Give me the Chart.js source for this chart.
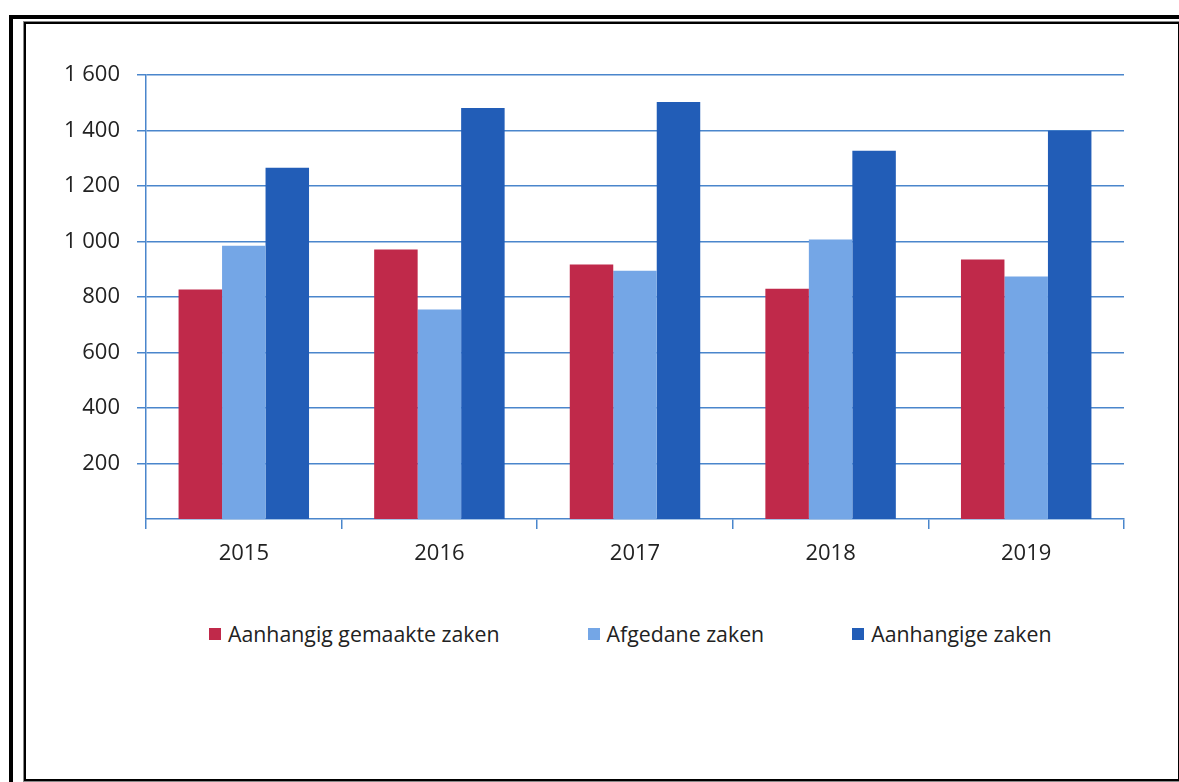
<!DOCTYPE html>
<html lang="nl">
<head>
<meta charset="UTF-8">
<title>Zaken 2015-2019</title>
<script src="https://cdn.jsdelivr.net/npm/chart.js"></script>
<style>
    body {
        margin: 0;
        background: #fff;
        font-family: "Open Sans", sans-serif;
        width: 1179px;
        height: 782px;
        overflow: hidden;
        position: relative;
    }
    .frame-outer {
        position: absolute;
        left: 9px;
        top: 15px;
        width: 1200px;
        height: 800px;
        border: 4px solid #000;
    }
    .frame-inner {
        position: absolute;
        left: 24px;
        top: 22px;
        width: 1152px;
        height: 755px;
        border: 2px solid #000;
        outline: 1px solid #888;
        background: #fff;
    }
    #wrap {
        position: absolute;
        left: 0;
        top: 0;
        width: 1179px;
        height: 600px;
    }
    .legend {
        position: absolute;
        top: 619px;
        left: 209px;
        display: flex;
        gap: 88px;
        font-size: 21.3px;
        color: #222;
        white-space: nowrap;
    }
    .legend span.item {
        display: flex;
        align-items: center;
    }
    .legend i {
        display: inline-block;
        width: 12px;
        height: 12px;
        margin-right: 7px;
    }
</style>
</head>
<body>
<div class="frame-outer"></div>
<div class="frame-inner"></div>
<div id="wrap"><canvas id="chart"></canvas></div>
<div class="legend" id="legend"></div>

<script>
    const years = ['2015', '2016', '2017', '2018', '2019'];
    const seriesNames = ['Aanhangig gemaakte zaken', 'Afgedane zaken', 'Aanhangige zaken'];
    const aanhangigGemaakt = [827, 971, 917, 830, 935];
    const afgedaan = [985, 755, 895, 1007, 874];
    const aanhangig = [1266, 1481, 1503, 1327, 1399];
    const colors = ['#C0294A', '#74A6E6', '#225DB7'];
    const yTicks = [200, 400, 600, 800, 1000, 1200, 1400, 1600];

    const gridBlue = '#4A86CC';

    function fmt(v) {
        return String(v).replace(/\B(?=(\d{3})+(?!\d))/g, ' ');
    }

    const values = [aanhangigGemaakt, afgedaan, aanhangig];

    new Chart(document.getElementById('chart'), {
        type: 'bar',
        data: {
            labels: years,
            datasets: values.map((d, i) => ({
                label: seriesNames[i],
                data: d,
                backgroundColor: colors[i],
                borderWidth: 0
            }))
        },
        options: {
            responsive: true,
            maintainAspectRatio: false,
            animation: false,
            layout: { padding: { left: 0, right: 55, top: 75, bottom: 21 } },
            plugins: {
                legend: { display: false },
                tooltip: { enabled: false }
            },
            datasets: {
                bar: { categoryPercentage: 0.667, barPercentage: 1 }
            },
            scales: {
                x: {
                    grid: {
                        offset: true,
                        drawOnChartArea: false,
                        drawTicks: true,
                        tickLength: 10,
                        color: gridBlue,
                        lineWidth: 1.5
                    },
                    border: { color: gridBlue, width: 1.5 },
                    ticks: {
                        color: '#222',
                        font: { family: 'Open Sans', size: 22 },
                        padding: 12
                    },
                    afterFit(scale) { scale.height = 60; }
                },
                y: {
                    min: 0,
                    max: 1600,
                    afterBuildTicks(scale) {
                        scale.ticks = yTicks.map(v => ({ value: v }));
                    },
                    grid: {
                        color: gridBlue,
                        lineWidth: 1.5,
                        tickLength: 9
                    },
                    border: { color: gridBlue, width: 1.5 },
                    ticks: {
                        color: '#222',
                        font: { family: 'Open Sans', size: 22 },
                        padding: 17,
                        callback: v => fmt(v)
                    },
                    afterFit(scale) { scale.width = 146; }
                }
            }
        }
    });

    const legend = document.getElementById('legend');
    seriesNames.forEach((name, i) => {
        const item = document.createElement('span');
        item.className = 'item';
        item.innerHTML = '<i style="background:' + colors[i] + '"></i>' + name;
        legend.appendChild(item);
    });
</script>
</body>
</html>
